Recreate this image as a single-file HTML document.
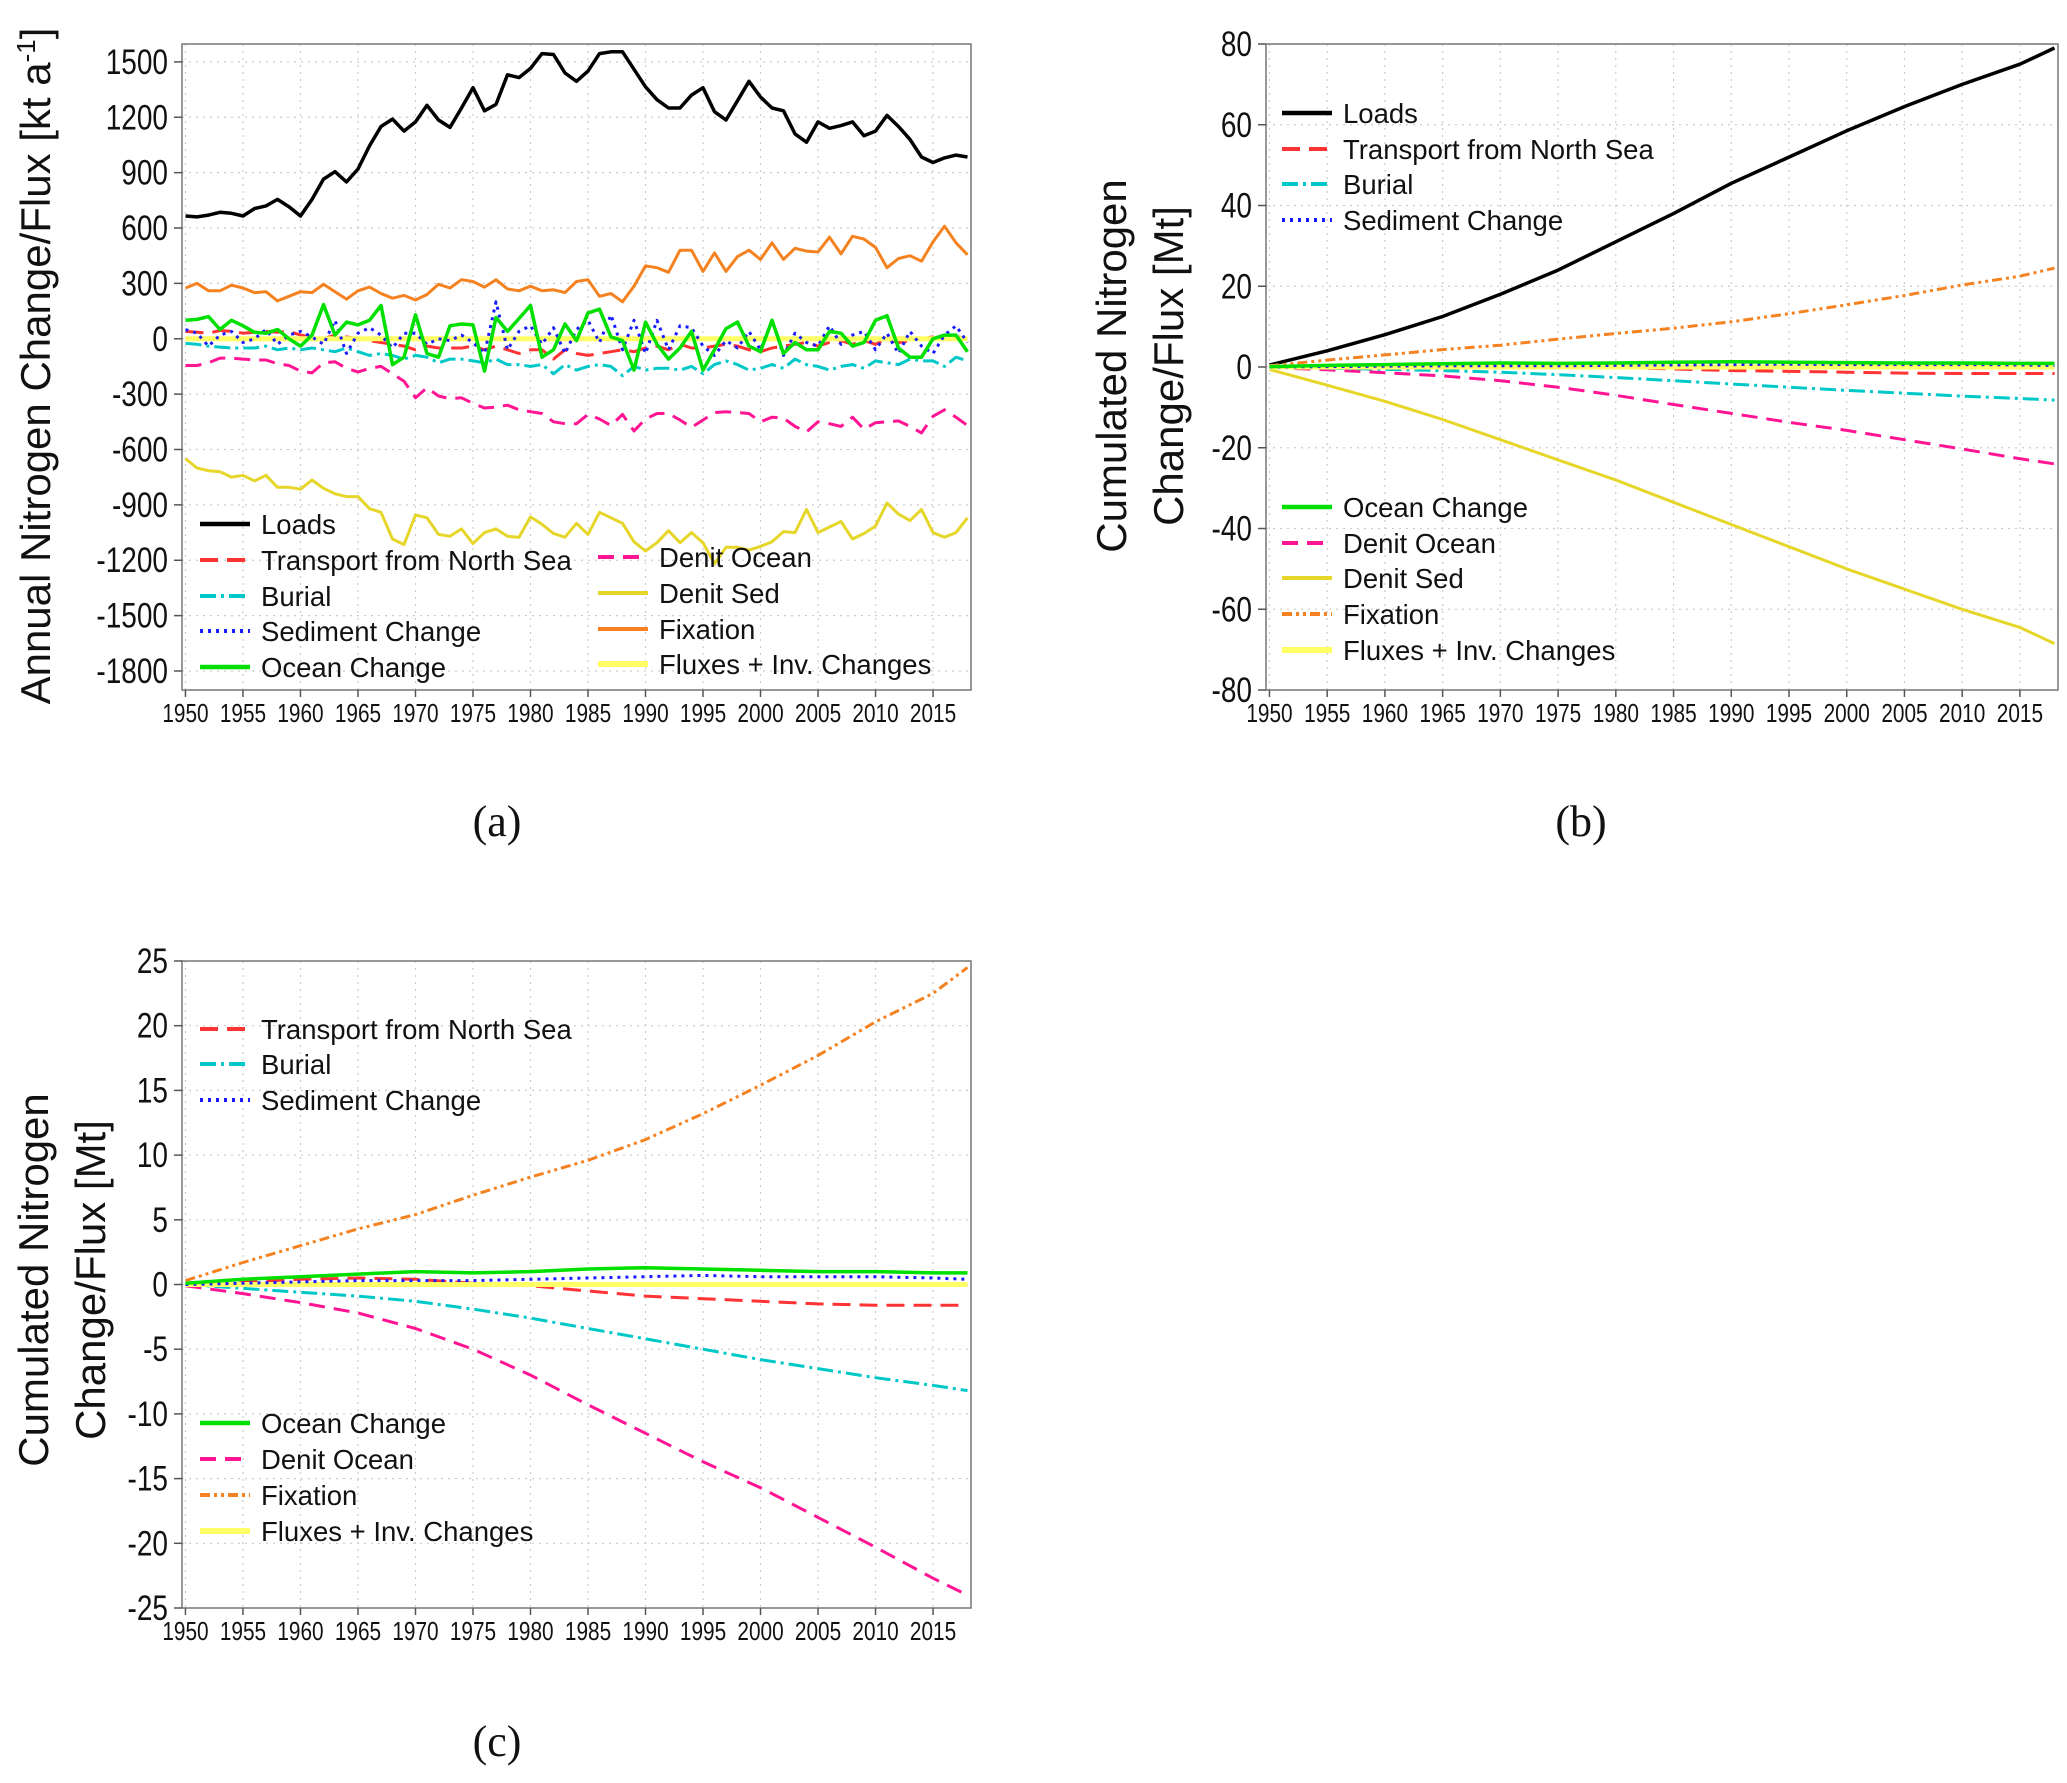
<!DOCTYPE html>
<html><head><meta charset="utf-8"><style>
html,body{margin:0;padding:0;background:#fff}
svg{display:block}
text{font-family:"Liberation Sans",sans-serif}
</style></head><body>
<svg id="fig" width="2067" height="1783" viewBox="0 0 2067 1783" xmlns="http://www.w3.org/2000/svg"></svg>
<script>
// ---- Panel (a) annual values [kt a-1], 1950.. ----
const loads=[665,660,670,685,680,665,705,720,755,715,665,755,865,905,850,920,1045,1150,1190,1125,1175,1265,1185,1145,1250,1360,1235,1270,1430,1415,1465,1545,1540,1440,1395,1450,1545,1555,1555,1460,1365,1295,1250,1250,1320,1360,1230,1185,1290,1395,1310,1250,1235,1110,1065,1175,1140,1155,1175,1100,1125,1210,1150,1080,985,955,980,995,985];
const fixation=[275,300,260,260,290,275,250,255,205,230,255,250,295,255,215,260,280,245,220,235,210,240,295,275,320,310,280,320,270,260,285,260,265,250,310,320,230,245,200,285,395,385,360,480,480,365,465,365,445,480,430,520,430,490,475,470,550,460,555,540,495,385,435,450,420,525,610,520,455];
const denitSed=[-650,-700,-715,-720,-750,-740,-770,-740,-805,-805,-815,-765,-810,-840,-855,-855,-920,-940,-1085,-1115,-955,-970,-1060,-1070,-1030,-1110,-1050,-1030,-1070,-1075,-965,-1005,-1055,-1075,-1000,-1060,-940,-970,-1000,-1100,-1150,-1105,-1040,-1105,-1050,-1105,-1220,-1130,-1130,-1145,-1125,-1100,-1045,-1050,-925,-1050,-1020,-990,-1085,-1055,-1015,-890,-950,-985,-925,-1050,-1075,-1050,-970];
const denitOcean=[-145,-145,-130,-105,-105,-110,-115,-115,-135,-145,-175,-185,-130,-125,-160,-180,-160,-150,-190,-230,-320,-265,-310,-325,-320,-350,-375,-370,-360,-385,-395,-405,-450,-460,-460,-410,-435,-470,-410,-500,-435,-405,-405,-440,-480,-440,-400,-395,-400,-405,-450,-425,-430,-475,-505,-450,-460,-475,-425,-490,-455,-450,-445,-475,-510,-420,-385,-425,-470];
const oceanChange=[100,105,120,50,100,70,35,30,50,0,-40,20,185,20,90,75,100,180,-140,-100,130,-80,-100,70,80,75,-175,115,40,110,180,-100,-60,80,-10,140,160,10,-10,-170,90,-30,-110,-50,40,-170,-60,55,90,-40,-70,100,-80,-20,-60,-60,40,30,-40,-20,100,125,-50,-100,-100,0,20,20,-70];
const sedimentChange=[50,30,-40,20,40,-20,0,50,-30,20,40,10,-30,100,-80,30,60,20,-50,30,30,-30,0,-10,20,-20,-80,200,-60,40,70,-30,60,-80,50,100,-20,130,-60,100,-80,100,-60,70,60,-40,-90,-10,-50,40,-60,100,-90,30,-20,-40,70,-30,20,40,-60,30,-80,40,-40,-80,20,70,-20];
const transport=[40,35,30,45,40,30,35,40,35,40,20,10,0,20,10,0,-10,-20,-30,-40,-60,-40,-50,-50,-50,-40,-60,-40,-60,-80,-60,-60,-110,-60,-80,-90,-80,-70,-60,-70,-50,-40,-60,-30,-50,-50,-40,-30,-40,-60,-70,-50,-40,-30,-20,-40,-20,-10,-30,-10,-30,0,-20,-10,0,10,10,10,5];
const burial=[-25,-30,-40,-45,-50,-50,-50,-40,-60,-50,-60,-50,-60,-70,-50,-70,-90,-80,-90,-110,-90,-100,-130,-110,-110,-120,-130,-110,-140,-140,-150,-140,-190,-140,-170,-150,-140,-150,-200,-150,-170,-160,-160,-170,-150,-190,-140,-120,-140,-170,-160,-140,-160,-110,-140,-150,-170,-150,-140,-160,-120,-130,-140,-110,-120,-120,-150,-100,-120];
const fluxesInv=[0,0,0,0,0,0,0,0,0,0,0,0,0,0,0,0,0,0,0,0,0,0,0,0,0,0,0,0,0,0,0,0,0,0,0,0,0,0,0,0,0,0,0,0,0,0,0,0,0,0,0,0,0,0,0,0,0,0,0,0,0,0,0,0,0,0,0,0,0];
const ticksA=[1500,1200,900,600,300,0,-300,-600,-900,-1200,-1500,-1800];
// ---- Panels (b),(c) cumulated values [Mt] ----
const cumYears=[1950,1955,1960,1965,1970,1975,1980,1985,1990,1995,2000,2005,2010,2015,2018];
const cumLoads=[0.5,4,8,12.5,18,24,31,38,45.5,52,58.5,64.5,70,75,79];
const cumFixation=[0.3,1.7,3.0,4.3,5.4,6.9,8.3,9.6,11.2,13.2,15.4,17.7,20.3,22.5,24.5];
const cumDenitSed=[-0.6,-4.5,-8.5,-13,-18,-23,-28,-33.5,-39,-44.5,-50,-55,-60,-64.5,-68.5];
const cumDenitOcean=[-0.1,-0.7,-1.4,-2.2,-3.4,-5,-7,-9.3,-11.5,-13.7,-15.7,-18,-20.3,-22.7,-24];
const cumBurial=[0,-0.3,-0.6,-0.9,-1.3,-1.9,-2.6,-3.4,-4.2,-5,-5.8,-6.5,-7.2,-7.8,-8.2];
const cumTransport=[0,0.2,0.4,0.5,0.4,0.1,-0.1,-0.5,-0.9,-1.1,-1.3,-1.5,-1.6,-1.6,-1.6];
const cumSediment=[0,0.1,0.2,0.3,0.3,0.3,0.4,0.5,0.6,0.7,0.6,0.6,0.6,0.5,0.4];
const cumOcean=[0.1,0.4,0.6,0.8,1.0,0.9,1.0,1.2,1.3,1.2,1.1,1.0,1.0,0.9,0.9];
const cumFluxes=[0,0,0,0,0,0,0,0,0,0,0,0,0,0,0];
const ticksB=[80,60,40,20,0,-20,-40,-60,-80];
const ticksC=[25,20,15,10,5,0,-5,-10,-15,-20,-25];
const xTicks=[1950,1955,1960,1965,1970,1975,1980,1985,1990,1995,2000,2005,2010,2015];

const NS="http://www.w3.org/2000/svg";
const svg=document.getElementById('fig');
function mk(tag,attrs,parent){const e=document.createElementNS(NS,tag);for(const k in attrs)e.setAttribute(k,attrs[k]);(parent||svg).appendChild(e);return e;}

const ST={
 loads:{c:'#000000',d:'',w:3.5},
 transport:{c:'#ff3333',d:'18 9',w:3},
 burial:{c:'#00c8c8',d:'16 5 3 5',w:3},
 sediment:{c:'#1a1aff',d:'3 5',w:3},
 ocean:{c:'#00e000',d:'',w:3.5},
 denitOcean:{c:'#ff1493',d:'16 9',w:3},
 denitSed:{c:'#e6d62a',d:'',w:3},
 fixationA:{c:'#f58220',d:'',w:3},
 fixation:{c:'#f58220',d:'10 4 3 4 3 4',w:3},
 fluxes:{c:'#ffff66',d:'',w:5}
};

function panel(name,L,R,T,B,yMin,yMax,yTicks,x0,x1){
 const g=mk('g',{});
 
 
 const sx=v=>L+(v-x0)/(x1-x0)*(R-L);
 const sy=v=>B-(v-yMin)/(yMax-yMin)*(B-T);
 xTicks.forEach(t=>{const l=mk('line',{x1:sx(t),x2:sx(t),y1:T,y2:B,stroke:'#cccccc','stroke-width':1.2,'stroke-dasharray':'2 5'},g);
  });
 yTicks.forEach(t=>{const l=mk('line',{x1:L,x2:R,y1:sy(t),y2:sy(t),stroke:'#cccccc','stroke-width':1.2,'stroke-dasharray':'2 5'},g);
  });
 const box=mk('rect',{x:L,y:T,width:R-L,height:B-T,fill:'none',stroke:'#777','stroke-width':1.5},g);
 
 yTicks.forEach(t=>{
  mk('line',{x1:L-8,x2:L,y1:sy(t),y2:sy(t),stroke:'#555','stroke-width':1.5},g);
  const tx=mk('text',{transform:`translate(${L-14},${sy(t)+12}) scale(0.8,1)`,'text-anchor':'end','font-size':35,fill:'#111'},g);
  tx.textContent=t;
 });
 xTicks.forEach(t=>{
  mk('line',{x1:sx(t),x2:sx(t),y1:B,y2:B+7,stroke:'#555','stroke-width':1.5},g);
  const tx=mk('text',{transform:`translate(${sx(t)},${B+32}) scale(0.8,1)`,'text-anchor':'middle','font-size':26,fill:'#111'},g);
  tx.textContent=t;
 });
 const clip=mk('clipPath',{id:'clip-'+name},g);mk('rect',{x:L,y:T,width:R-L,height:B-T},clip);
 const sg=mk('g',{'clip-path':`url(#clip-${name})`},g);
 return {g,sg,sx,sy};
}
function series(P,name,xs,ys,st){
 const pts=ys.map((v,i)=>P.sx(xs[i]).toFixed(1)+','+P.sy(v).toFixed(1)).join(' ');
 const p=mk('polyline',{points:pts,fill:'none',stroke:st.c,'stroke-width':st.w,'stroke-dasharray':st.d,'stroke-linejoin':'round'},P.sg);
 
 
}
function legend(P,x,y,label,st){
 const g=mk('g',{},P.g);
 
 
 mk('line',{x1:x,x2:x+50,y1:y,y2:y,stroke:st.c,'stroke-width':st.w+1,'stroke-dasharray':st.d},g);
 const t=mk('text',{x:x+61,y:y+10,'font-size':27.5,fill:'#111'},g);t.textContent=label;
}
function title(lines,cx,cy,sup){
 lines.forEach((s,i)=>{
  const t=mk('text',{transform:`translate(${cx[i]},${cy}) rotate(-90)`,'text-anchor':'middle','font-size':42,fill:'#111'});
  
  t.textContent=s;
  if(sup&&i===0){const ts=mk('tspan',{'baseline-shift':'super','font-size':26},t);ts.textContent='-1';const t2=mk('tspan',{},t);t2.textContent=']';}
 });
}
function caption(s,x,y){const t=mk('text',{x:x,y:y,'text-anchor':'middle','font-size':44,fill:'#111',style:'font-family:"Liberation Serif",serif'});t.textContent=s;}

// ---- Panel a ----
const years=loads.map((_,i)=>1950+i);
const xEnd=1950+loads.length-1+0.3;
const A=panel('panel-a',182,971,44,690,-1903,1597,ticksA,1949.7,xEnd);
series(A,'series-loads',years,loads,ST.loads);
series(A,'series-fixation',years,fixation,ST.fixationA);
series(A,'series-denit-sed',years,denitSed,ST.denitSed);
series(A,'series-denit-ocean',years,denitOcean,ST.denitOcean);
series(A,'series-burial',years,burial,ST.burial);
series(A,'series-transport',years,transport,ST.transport);
series(A,'series-fluxes-inv',years,fluxesInv,ST.fluxes);
series(A,'series-sediment-change',years,sedimentChange,ST.sediment);
series(A,'series-ocean-change',years,oceanChange,ST.ocean);
[['Loads',ST.loads,524],['Transport from North Sea',ST.transport,560],['Burial',ST.burial,596],['Sediment Change',ST.sediment,631],['Ocean Change',ST.ocean,667]].forEach(e=>legend(A,200,e[2],e[0],e[1]));
[['Denit Ocean',ST.denitOcean,557],['Denit Sed',ST.denitSed,593],['Fixation',ST.fixationA,629],['Fluxes + Inv. Changes',ST.fluxes,664]].forEach(e=>legend(A,598,e[2],e[0],e[1]));
title(['Annual Nitrogen Change/Flux [kt a'],[50],366,true);
caption('(a)',497,836);

// ---- Panel b ----
const Bp=panel('panel-b',1266,2058,44,690,-80,80,ticksB,1949.7,2018.3);
series(Bp,'series-loads',cumYears,cumLoads,ST.loads);
series(Bp,'series-fixation',cumYears,cumFixation,ST.fixation);
series(Bp,'series-denit-sed',cumYears,cumDenitSed,ST.denitSed);
series(Bp,'series-denit-ocean',cumYears,cumDenitOcean,ST.denitOcean);
series(Bp,'series-burial',cumYears,cumBurial,ST.burial);
series(Bp,'series-transport',cumYears,cumTransport,ST.transport);
series(Bp,'series-fluxes-inv',cumYears,cumFluxes,ST.fluxes);
series(Bp,'series-sediment-change',cumYears,cumSediment,ST.sediment);
series(Bp,'series-ocean-change',cumYears,cumOcean,ST.ocean);
[['Loads',ST.loads,113],['Transport from North Sea',ST.transport,149],['Burial',ST.burial,184],['Sediment Change',ST.sediment,220]].forEach(e=>legend(Bp,1282,e[2],e[0],e[1]));
[['Ocean Change',ST.ocean,507],['Denit Ocean',ST.denitOcean,543],['Denit Sed',ST.denitSed,578],['Fixation',ST.fixation,614],['Fluxes + Inv. Changes',ST.fluxes,650]].forEach(e=>legend(Bp,1282,e[2],e[0],e[1]));
title(['Cumulated Nitrogen','Change/Flux [Mt]'],[1126,1183],366,false);
caption('(b)',1581,836);

// ---- Panel c ----
const C=panel('panel-c',182,971,961,1608,-25,25,ticksC,1949.7,2018.3);
series(C,'series-fixation',cumYears,cumFixation,ST.fixation);
series(C,'series-denit-ocean',cumYears,cumDenitOcean,ST.denitOcean);
series(C,'series-burial',cumYears,cumBurial,ST.burial);
series(C,'series-transport',cumYears,cumTransport,ST.transport);
series(C,'series-fluxes-inv',cumYears,cumFluxes,ST.fluxes);
series(C,'series-sediment-change',cumYears,cumSediment,ST.sediment);
series(C,'series-ocean-change',cumYears,cumOcean,ST.ocean);
[['Transport from North Sea',ST.transport,1029],['Burial',ST.burial,1064],['Sediment Change',ST.sediment,1100]].forEach(e=>legend(C,200,e[2],e[0],e[1]));
[['Ocean Change',ST.ocean,1423],['Denit Ocean',ST.denitOcean,1459],['Fixation',ST.fixation,1495],['Fluxes + Inv. Changes',ST.fluxes,1531]].forEach(e=>legend(C,200,e[2],e[0],e[1]));
title(['Cumulated Nitrogen','Change/Flux [Mt]'],[48,105],1280,false);
caption('(c)',497,1756);
</script>
</body></html>
